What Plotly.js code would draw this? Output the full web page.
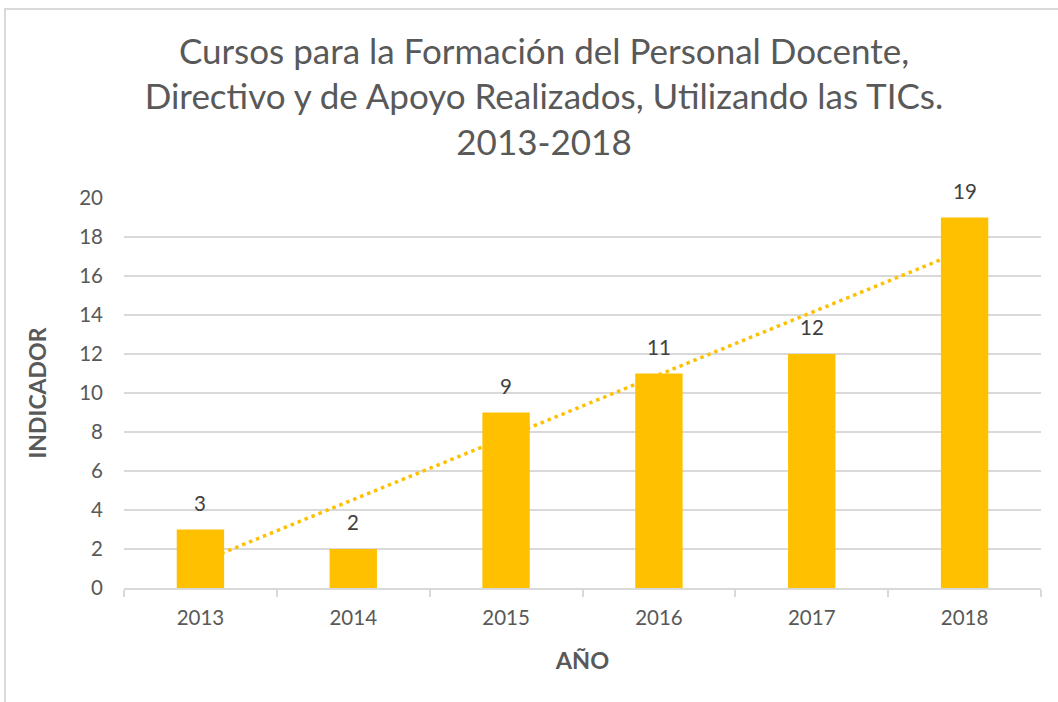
<!DOCTYPE html>
<html>
<head>
<meta charset="utf-8">
<script src="https://cdn.plot.ly/plotly-3.0.1.min.js"></script>
<style>
html,body{margin:0;padding:0;background:#fff;}
#chart{width:1058px;height:702px;}
#frame{position:absolute;left:4px;top:8px;width:1100px;height:800px;border:2px solid #d9d9d9;pointer-events:none;}
</style>
</head>
<body>
<div id="chart"></div>
<div id="frame"></div>
<script>
const years = ['2013','2014','2015','2016','2017','2018'];
const values = [3, 2, 9, 11, 12, 19];
const titleText = 'Cursos para la Formación del Personal Docente,<br>Directivo y de Apoyo Realizados, Utilizando las TICs.<br>2013-2018';
const yTitle = 'INDICADOR';
const xTitle = 'AÑO';

// linear trendline (least squares over category index)
const n = values.length;
const idx = values.map((_, i) => i);
const mx = idx.reduce((a, b) => a + b, 0) / n;
const my = values.reduce((a, b) => a + b, 0) / n;
let sxy = 0, sxx = 0;
idx.forEach((x, i) => { sxy += (x - mx) * (values[i] - my); sxx += (x - mx) * (x - mx); });
const slope = sxy / sxx;
const intercept = my - slope * mx;
const trend = idx.map(x => intercept + slope * x);

const FONT = 'Lato, "Open Sans", sans-serif';
const GOLD = '#FFC000';
const GREY = '#d9d9d9';

const trendTrace = {
  type: 'scatter', mode: 'lines', x: years, y: trend,
  xaxis: 'x', yaxis: 'y',
  line: {color: GOLD, width: 3.5, dash: '3.5px,4px'},
  hoverinfo: 'skip', showlegend: false
};
const barTrace = {
  type: 'bar', x: years, y: values, xaxis: 'x2', yaxis: 'y2',
  width: 0.31, marker: {color: GOLD}, showlegend: false
};

const annotations = values.map((v, i) => ({
  x: i, y: v, xref: 'x', yref: 'y', text: String(v),
  showarrow: false, yanchor: 'middle', yshift: 27,
  font: {family: FONT, size: 20.5, color: '#404040'}
}));

const layout = {
  width: 1058, height: 702,
  margin: {l: 124, r: 17, t: 198, b: 114},
  paper_bgcolor: '#fff', plot_bgcolor: '#fff',
  font: {family: FONT, color: '#595959'},
  title: {
    text: titleText, xref: 'paper', x: 0.458, xanchor: 'center',
    yref: 'container', y: 0.909, yanchor: 'top',
    font: {family: FONT, size: 35, color: '#595959', lineposition: 'none'}
  },
  xaxis: {
    type: 'category', range: [-0.5, 5.5], tickson: 'boundaries',
    ticks: 'outside', ticklen: 7, tickwidth: 2, tickcolor: GREY,
    showline: true, linecolor: GREY, linewidth: 2, showgrid: false,
    ticklabelstandoff: 10,
    tickfont: {family: FONT, size: 20.5, color: '#595959'},
    title: {text: '<b>' + xTitle + '</b>', standoff: 25, font: {family: FONT, size: 23.5, color: '#595959'}},
    fixedrange: true
  },
  yaxis: {
    range: [0, 20], dtick: 2, showgrid: true, gridcolor: GREY, gridwidth: 2,
    zeroline: false, showline: false, ticks: '', ticklabelstandoff: 20,
    tickfont: {family: FONT, size: 20.5, color: '#595959'},
    title: {text: '<b>' + yTitle + '</b>', standoff: 26, font: {family: FONT, size: 23, color: '#595959'}},
    fixedrange: true
  },
  xaxis2: {type: 'category', overlaying: 'x', range: [-0.5, 5.5], visible: false, fixedrange: true},
  yaxis2: {overlaying: 'y', range: [0, 20], visible: false, fixedrange: true},
  annotations: annotations,
  showlegend: false
};

Plotly.newPlot('chart', [trendTrace, barTrace], layout, {displayModeBar: false, staticPlot: true});
</script>
</body>
</html>
